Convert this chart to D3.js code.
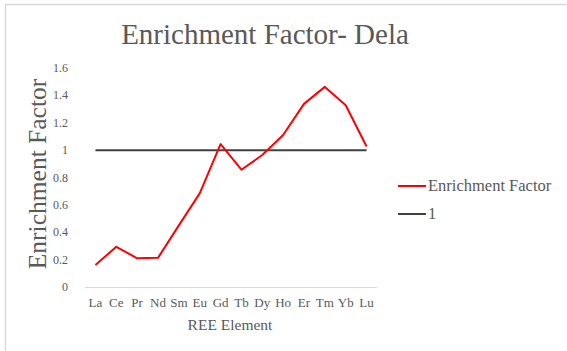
<!DOCTYPE html>
<html lang="en">
<head>
  <meta charset="UTF-8" />
  <title>Enrichment Factor- Dela</title>
  <style>
    body {
      margin: 0;
      background-color: #fff;
    }

    svg {
      display: block;
      font-family: "Liberation Serif", serif;
    }

    .tick-label {
      fill: #595959;
      font-size: 12px;
    }

    .cat-label {
      fill: #595959;
      font-size: 13px;
    }

    .legend-label {
      fill: #595959;
      font-size: 16.5px;
    }
  </style>
</head>

<body>
  <svg width="567" height="351"></svg>

  <script src="https://d3js.org/d3.v7.min.js"></script>
  <script>
    const elements = ["La", "Ce", "Pr", "Nd", "Sm", "Eu", "Gd", "Tb", "Dy", "Ho", "Er", "Tm", "Yb", "Lu"];
    const enrichment = [0.16, 0.294, 0.21, 0.213, 0.45, 0.684, 1.044, 0.857, 0.964, 1.11, 1.338, 1.462, 1.328, 1.026];
    const reference = [1, 1, 1, 1, 1, 1, 1, 1, 1, 1, 1, 1, 1, 1];
    const yTicks = [0, 0.2, 0.4, 0.6, 0.8, 1, 1.2, 1.4, 1.6];
    const seriesNames = ["Enrichment Factor", "1"];

    const svg = d3.select("svg");

    // chart border (open on right / bottom like the crop)
    svg.append("path")
      .attr("d", "M5.5,351 V4.5 H567")
      .attr("fill", "none")
      .attr("stroke", "#d9d9d9")
      .attr("stroke-width", 1.5);

    const plot = { left: 85, right: 377, top: 68, bottom: 287 };

    const x = d3.scaleBand()
      .domain(elements)
      .range([plot.left, plot.right]);

    const y = d3.scaleLinear()
      .domain([0, 1.6])
      .range([plot.bottom, plot.top]);

    // title
    svg.append("text")
      .attr("x", 265)
      .attr("y", 44)
      .attr("text-anchor", "middle")
      .attr("fill", "#595959")
      .style("font-size", "29px")
      .text("Enrichment Factor- Dela");

    // y tick labels
    svg.selectAll(".tick-label")
      .data(yTicks)
      .enter()
      .append("text")
      .attr("class", "tick-label")
      .attr("x", 68)
      .attr("y", d => y(d) + 4)
      .attr("text-anchor", "end")
      .text(d => d3.format("~g")(d));

    // x axis line
    svg.append("line")
      .attr("x1", plot.left)
      .attr("x2", plot.right)
      .attr("y1", y(0) + 0.5)
      .attr("y2", y(0) + 0.5)
      .attr("stroke", "#d9d9d9")
      .attr("stroke-width", 1);

    // category labels
    svg.selectAll(".cat-label")
      .data(elements)
      .enter()
      .append("text")
      .attr("class", "cat-label")
      .attr("x", d => x(d) + x.bandwidth() / 2)
      .attr("y", 307)
      .attr("text-anchor", "middle")
      .text(d => d);

    // axis titles
    svg.append("text")
      .attr("x", 230)
      .attr("y", 330)
      .attr("text-anchor", "middle")
      .attr("fill", "#595959")
      .style("font-size", "15.5px")
      .text("REE Element");

    svg.append("text")
      .attr("transform", "translate(46,174) rotate(-90)")
      .attr("text-anchor", "middle")
      .attr("fill", "#595959")
      .style("font-size", "25.5px")
      .text("Enrichment Factor");

    const line = d3.line()
      .x((d, i) => x(elements[i]) + x.bandwidth() / 2)
      .y(d => y(d));

    svg.append("path")
      .datum(reference)
      .attr("d", line)
      .attr("fill", "none")
      .attr("stroke", "#404040")
      .attr("stroke-width", 2);

    svg.append("path")
      .datum(enrichment)
      .attr("d", line)
      .attr("fill", "none")
      .attr("stroke", "#ff0000")
      .attr("stroke-width", 2)
      .attr("stroke-linejoin", "round");

    // legend
    const legendColors = ["#ff0000", "#404040"];
    const legend = svg.selectAll(".legend")
      .data(seriesNames)
      .enter()
      .append("g")
      .attr("class", "legend")
      .attr("transform", (d, i) => `translate(398,${186 + i * 28})`);

    legend.append("line")
      .attr("x1", 0)
      .attr("x2", 28)
      .attr("stroke", (d, i) => legendColors[i])
      .attr("stroke-width", 2);

    legend.append("text")
      .attr("class", "legend-label")
      .attr("x", 30)
      .attr("y", 5)
      .text(d => d);
  </script>
</body>
</html>
